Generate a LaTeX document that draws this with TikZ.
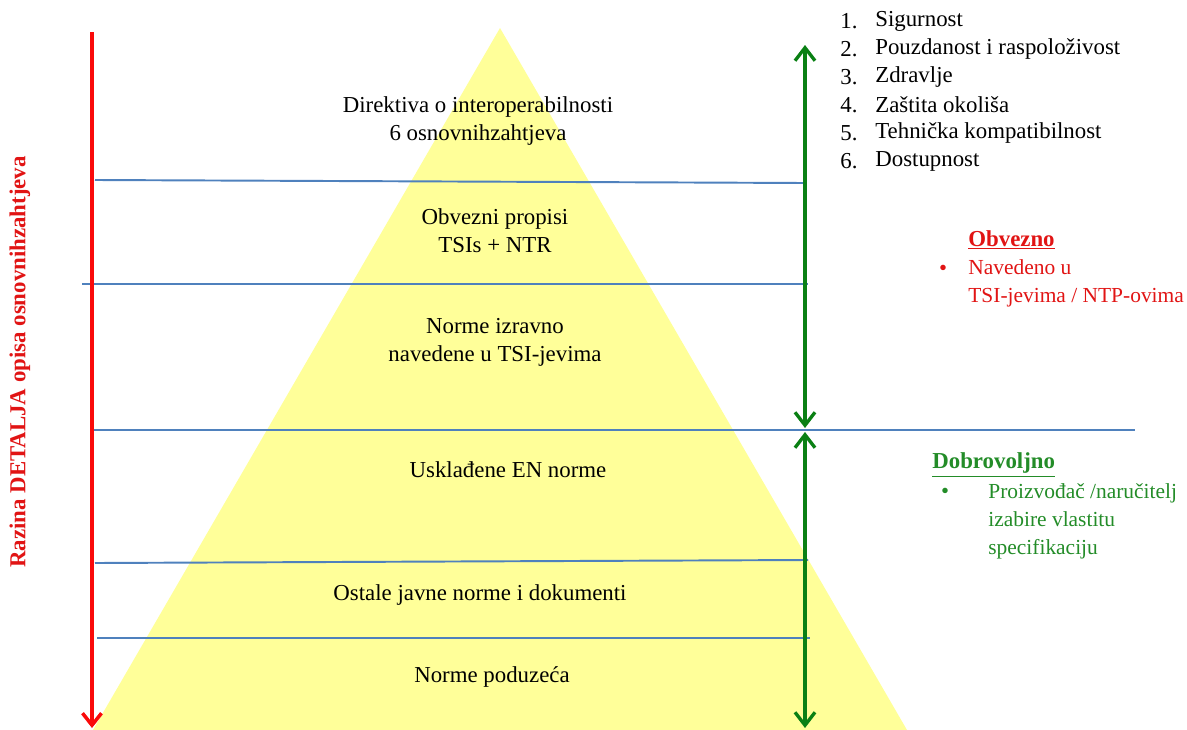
\documentclass[tikz,border=0pt]{standalone}
\usepackage{fontspec}
\setmainfont{Liberation Serif}
\usetikzlibrary{arrows.meta, positioning}

\definecolor{pyrfill}{RGB}{255,255,153}
\definecolor{lineblue}{RGB}{79,129,189}
\definecolor{arrred}{RGB}{250,10,10}
\definecolor{txtred}{RGB}{225,20,20}
\definecolor{arrgreen}{RGB}{10,128,20}
\definecolor{txtgreen}{RGB}{35,140,40}

\begin{document}
\begin{tikzpicture}[x=0.02cm, y=-0.02cm, font=\fontsize{13}{16}\selectfont]
        \tikzstyle{sepline} = [draw=lineblue, line width=1.1pt]
        \tikzstyle{level} = [align=center, inner sep=0pt]
        \tikzstyle{redarrow} = [draw=arrred, line width=2pt, -{Straight Barb[length=2.4mm,width=3.8mm]}]
        \tikzstyle{greenarrow} = [draw=arrgreen, line width=1.9pt, {Straight Barb[length=2.6mm,width=4mm]}-{Straight Barb[length=2.6mm,width=4mm]}]
        \tikzstyle{listitem} = [anchor=west, inner sep=0pt]
        \tikzstyle{sidenote} = [listitem, align=left, font=\fontsize{12.2}{16}\selectfont]

        \useasboundingbox (0,0) rectangle (1187,730);

        % pyramid
        \fill[pyrfill] (500,28) -- (907,730) -- (93,730) -- cycle;

        % horizontal levels
        \coordinate (l1a) at (95,180);  \coordinate (l1b) at (805,183);
        \coordinate (l2a) at (82,284);  \coordinate (l2b) at (808,284);
        \coordinate (l3a) at (91,430);  \coordinate (l3b) at (1135,430);
        \coordinate (l4a) at (95,563);  \coordinate (l4b) at (808,560);
        \coordinate (l5a) at (97,638);  \coordinate (l5b) at (810,638);
        \draw [sepline] (l1a) -- (l1b);
        \draw [sepline] (l2a) -- (l2b);
        \draw [sepline] (l3a) -- (l3b);
        \draw [sepline] (l4a) -- (l4b);
        \draw [sepline] (l5a) -- (l5b);

        % arrows
        \coordinate (redtop) at (92,32);
        \coordinate (redbot) at (92,728);
        \coordinate (grtop) at (805,45);
        \coordinate (grmidup) at (805,428);
        \coordinate (grmiddn) at (805,432);
        \coordinate (grbot) at (805,728);
        \draw [redarrow] (redtop) -- (redbot);
        \draw [greenarrow] (grtop) -- (grmidup);
        \draw [greenarrow] (grmiddn) -- (grbot);

        % level texts
        \node (dirtxt) [level] at (478,121) {Direktiva o interoperabilnosti\\6 osnovnihzahtjeva};
        \node (obvtxt) [level] at (495,231) {Obvezni propisi\\TSIs + NTR};
        \node (normtxt) [level] at (495,342) {Norme izravno\\navedene u TSI-jevima};
        \node (uskltxt) [level] at (508,470) {Usklađene EN norme};
        \node (ostaltxt) [level] at (480,595) {Ostale javne norme i dokumenti};
        \node (poduztxt) [level] at (492,677) {Norme poduzeća};

        % axis label
        \node (axislbl) [rotate=90, text=txtred, font=\fontsize{13}{16}\selectfont\bfseries] at (20,362) {Razina DETALJA opisa osnovnihzahtjeva};

        % list of requirements
        \foreach \n/\t in {1/Sigurnost, 2/Pouzdanost i raspoloživost, 3/Zdravlje, 4/Zaštita okoliša, 5/Tehnička kompatibilnost, 6/Dostupnost} {
            \node (num\n) [listitem] at (840,{21+28*(\n-1)}) {\n.};
            \node (req\n) [listitem] at (875,{21+28*(\n-1)}) {\t};
        }

        % mandatory
        \node (obvhead) [listitem, text=txtred] at (968,240) {\underline{\textbf{Obvezno}}};
        \node (obvdot) [text=txtred, inner sep=0pt] at (943,270) {\textbullet};
        \node (obvitem) [sidenote, text=txtred] at (968,283) {Navedeno u\\TSI-jevima / NTP-ovima};

        % voluntary
        \node (dobhead) [listitem, text=txtgreen] at (932,465) {\underline{\textbf{Dobrovoljno}}};
        \node (dobdot) [text=txtgreen, inner sep=0pt] at (945,493) {\textbullet};
        \node (dobitem) [sidenote, text=txtgreen] at (988,521) {Proizvođač /naručitelj\\izabire vlastitu\\specifikaciju};
    \end{tikzpicture}
\end{document}
